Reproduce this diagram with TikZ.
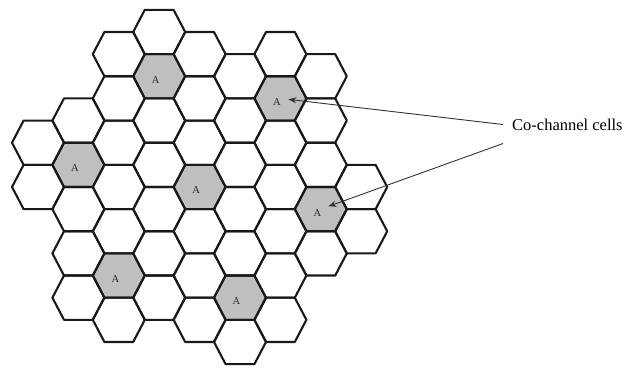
\documentclass[tikz,border=0pt]{standalone}
\usepackage{fontspec}
\setmainfont{Liberation Serif}
\usetikzlibrary{arrows.meta}

\begin{document}
\begin{tikzpicture}[
        x=1pt, y=-1pt,
        hexcell/.pic={\path[pic actions] (-26,0) -- (-14.4,-22.14) -- (14.4,-22.14) -- (26,0) -- (14.4,22.14) -- (-14.4,22.14) -- cycle;},
        cellline/.style={draw=black!90, line width=2.1pt, line join=round},
        shaded/.style={fill=black!25},
        letter/.style={font=\fontsize{10.5}{10.5}\selectfont, text=black!85, inner sep=0pt, xshift=-3.5pt, yshift=-3.5pt},
        pointer/.style={-{Stealth[length=8pt,width=6pt]}, black!80, line width=0.9pt, shorten >=8pt},
        caption/.style={font=\fontsize{16.5}{18}\selectfont, inner xsep=9pt, inner ysep=13pt, anchor=west}
    ]
    \useasboundingbox (0,0) rectangle (629,368);

    % --- SHADED CELLS (same channel) ---
    \foreach \c/\k in {1/6, 3/2, 2/11, 4/7, 6/3, 5/12, 7/8}
        \pic[shaded] at ({38+40.4*\c}, {32+22.14*\k}) {hexcell};

    % --- CELL GRID, COLUMN BY COLUMN ---
    \foreach \c/\kfirst/\klast in {0/5/7, 1/4/12, 2/1/13, 3/0/12, 4/1/13, 5/2/14, 6/1/13, 7/2/10, 8/7/9} {
            \pgfmathtruncatemacro\knext{\kfirst+2}
            \foreach \k in {\kfirst,\knext,...,\klast} {
                    \coordinate (c\c-\k) at ({38+40.4*\c}, {32+22.14*\k});
                    \pic[cellline] at (c\c-\k) {hexcell};
                }
        }

    % --- LETTERS ---
    \foreach \c/\k in {1/6, 3/2, 2/11, 4/7, 6/3, 5/12, 7/8}
        \node[letter] (a\c-\k) at (c\c-\k) {A};

    % --- LABEL & POINTERS ---
    \node[caption] (lbl) at (503, 124.5) {Co-channel cells};
    \draw[pointer] (lbl.west) -- (c6-3);
    \draw[pointer] (lbl.south west) -- (c7-8);

\end{tikzpicture}
\end{document}
